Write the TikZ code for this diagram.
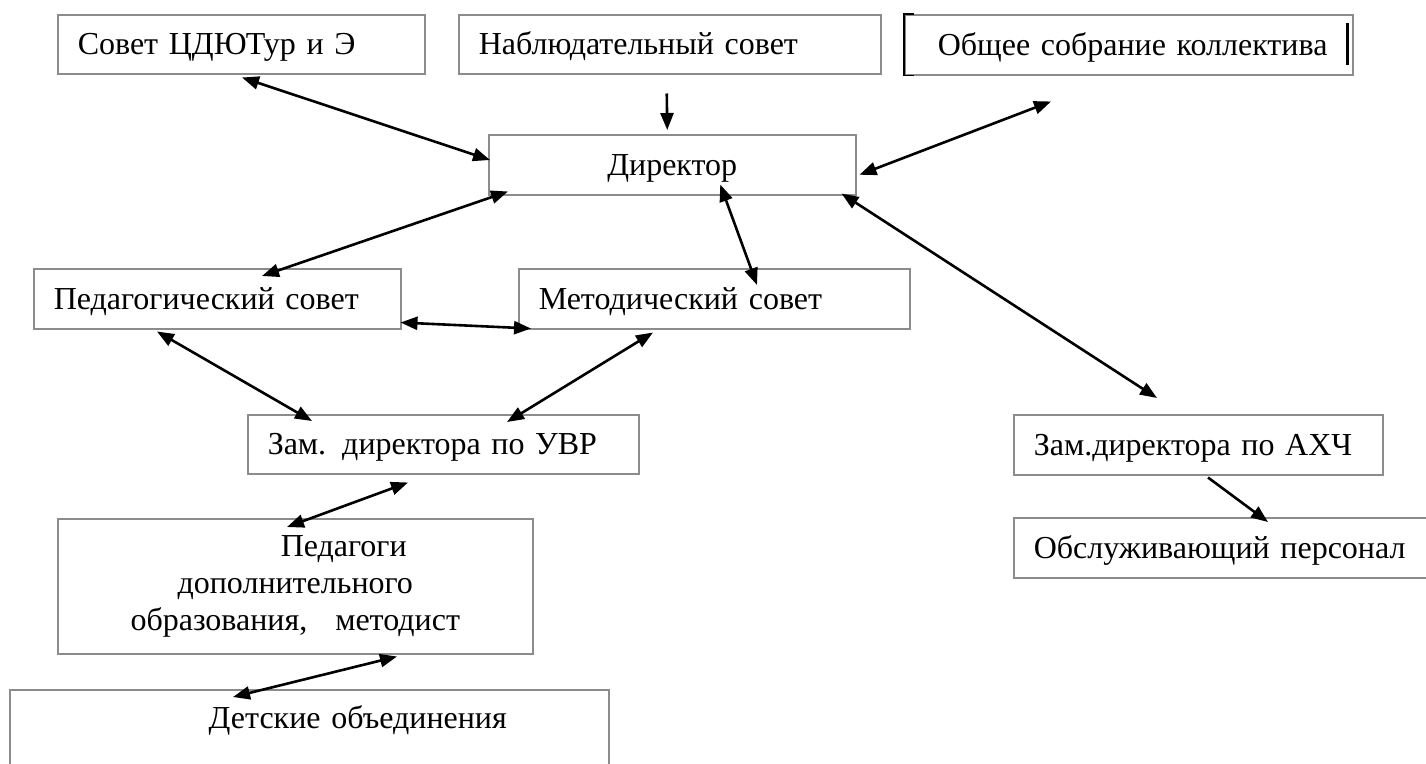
\documentclass[tikz,border=0pt]{standalone}
\usepackage{fontspec}
\setmainfont{Liberation Serif}
\newfontfamily\orgfont{Liberation Serif}
\usetikzlibrary{arrows.meta}

\definecolor{boxgray}{gray}{0.55}
\newcommand{\firstind}{\hspace*{97pt}}

\begin{document}
\begin{tikzpicture}[x=1pt,y=-1pt,
    orgbox/.style={draw=boxgray, line width=1.5pt, anchor=north west, inner xsep=20pt, inner ysep=0pt,
      minimum height=60pt, align=left, font=\orgfont\fontsize{32}{37}\selectfont},
    oneline/.style={text height=25pt, text depth=4pt},
    link/.style={line width=2.6pt, {Triangle[length=17pt,width=13pt]}-{Triangle[length=17pt,width=13pt]}},
    onelink/.style={line width=2.6pt, -{Triangle[length=17pt,width=13pt]}}]
    \useasboundingbox (0,0) rectangle (1426,763);

    % top row
    \node[orgbox, oneline, text width=327pt, minimum height=59pt] (sovet) at (57,14) {Совет ЦДЮТур и Э};
    \node[orgbox, oneline, text width=382pt, minimum height=59pt] (nabl) at (458,14) {Наблюдательный совет};
    \node[orgbox, oneline, text width=382pt, inner xsep=33pt] (obsch) at (904,14) {\mbox{Общее собрание коллектива}};
    \draw[line width=1.5pt] ([xshift=10pt]obsch.north west) -- (obsch.north west) -- (obsch.south west) -- ([xshift=10pt]obsch.south west);
    \draw[line width=2.5pt] ([xshift=-6pt,yshift=-9pt]obsch.north east) -- ([xshift=-6pt,yshift=11pt]obsch.south east);

    \node[orgbox, oneline, text width=327pt, align=center] (dir) at (488,134) {Директор};

    \node[orgbox, oneline, text width=327pt] (ped) at (33,268) {Педагогический совет};
    \node[orgbox, oneline, text width=351pt] (metod) at (518,268) {Методический совет};

    \node[orgbox, oneline, text width=351pt, minimum height=59pt] (uvr) at (247,414) {Зам. директора по УВР};
    \node[orgbox, oneline, text width=329pt] (axc) at (1013,414) {Зам.директора по АХЧ};
    \node[orgbox, oneline, text width=420pt] (obsl) at (1013,517) {Обслуживающий персонал};

    \node[orgbox, text width=435pt, minimum height=135pt, align=center] (pedag) at (57,518)
      {\firstind Педагоги\\ дополнительного\\ образования,\hspace{28pt}методист};
    \node[orgbox, text width=559pt, align=center, inner ysep=14pt, text height=25pt, text depth=60pt] (detsk) at (9,689)
      {\firstind Детские объединения};

    % connections
    \draw[link] ([xshift=185pt,yshift=-3pt]sovet.south west) -- ([xshift=2pt,yshift=-26pt]dir.north west);
    \draw[onelink] ([xshift=-3pt,yshift=-19pt]nabl.south) -- ([xshift=-5pt,yshift=4pt]dir.north);
    \draw[link] ([xshift=3pt,yshift=-10pt]dir.east) -- ([xshift=147pt,yshift=-26pt]obsch.south west);
    \draw[link] ([xshift=20pt,yshift=4pt]dir.south west) -- ([xshift=229pt,yshift=-8pt]ped.north west);
    \draw[link] ([xshift=48pt,yshift=11pt]dir.south) -- ([xshift=239pt,yshift=-17pt]metod.north west);
    \draw[link] ([xshift=-15pt,yshift=2pt]dir.south east) -- ([xshift=144pt,yshift=16pt]axc.north west);
    \draw[link] ([xshift=-1pt,yshift=7pt]ped.south east) -- ([xshift=13pt,yshift=1pt]metod.south west);
    \draw[link] ([xshift=124pt,yshift=-2pt]ped.south west) -- ([xshift=65pt,yshift=-7pt]uvr.north west);
    \draw[link] ([xshift=135pt,yshift=-3pt]metod.south west) -- ([xshift=260pt,yshift=-8pt]uvr.north west);
    \draw[link] ([xshift=161pt,yshift=-8pt]uvr.south west) -- ([xshift=230pt,yshift=-9pt]pedag.north west);
    \draw[link] ([xshift=340pt,yshift=-2pt]pedag.south west) -- ([xshift=224pt,yshift=-8pt]detsk.north west);
    \draw[onelink] ([xshift=195pt,yshift=-2pt]axc.south west) -- ([xshift=255pt,yshift=-5pt]obsl.north west);

  \end{tikzpicture}
\end{document}
